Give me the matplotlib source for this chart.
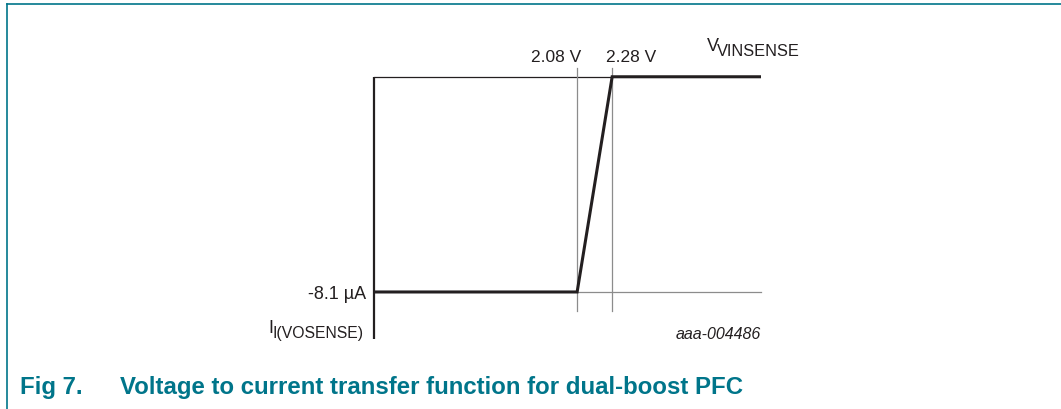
import matplotlib.pyplot as plt
from matplotlib.lines import Line2D

plt.rcParams['font.family'] = ['Liberation Sans', 'DejaVu Sans']

# Transfer function (schematic): input voltage (V) -> output current (uA)
v_thresholds = [2.08, 2.28]
threshold_labels = ["2.08 V", "2.28 V"]
i_low = -8.1
i_high = 0.0
v_range = [0.92, 3.13]  # sketch extent of the V axis
i_range = [-9.87, 0.33]  # sketch extent of the I axis
guide_bottom = -8.8

v_curve = [v_range[0], v_thresholds[0], v_thresholds[1], v_range[1]]
i_curve = [i_low, i_low, i_high, i_high]

low_label = "-8.1 µA"
fig_id = "aaa-004486"
caption_num = "Fig 7."
caption = "Voltage to current transfer function for dual-boost PFC"

W, H = 1061, 410
dark = "#231f20"
gray = "#8c8c8c"
teal = "#00758a"

fig = plt.figure(figsize=(W / 100, H / 100), dpi=100)
fx = lambda px: px / W
fy = lambda py: 1 - py / H

# teal frame (top and left edges only)
fig.add_artist(Line2D([fx(7.3), 1], [fy(4.5), fy(4.5)], color=teal, lw=1.2))
fig.add_artist(Line2D([fx(7.3), fx(7.3)], [fy(4.5), 0], color=teal, lw=1.2))

ax = fig.add_axes([fx(374), fy(340), fx(761) - fx(374), fy(69) - fy(340)])
ax.set_xlim(v_range)
ax.set_ylim(i_range)
ax.axis("off")

# axes of the sketch
ax.plot([v_range[0], v_range[0]], [i_range[0], i_high], color=dark, lw=1.6,
        solid_capstyle="butt", clip_on=False)
ax.plot([v_range[0], v_thresholds[1]], [i_high, i_high], color=dark, lw=0.9,
        clip_on=False)

# guide lines
for v in v_thresholds:
    ax.plot([v, v], [guide_bottom, i_range[1]], color=gray, lw=0.9, clip_on=False)
ax.plot([v_thresholds[0], v_range[1]], [i_low, i_low], color=gray, lw=0.9,
        clip_on=False)

# transfer curve
ax.plot(v_curve, i_curve, color=dark, lw=2.2, solid_joinstyle="miter",
        solid_capstyle="butt", clip_on=False)

# threshold labels
offsets = [-21, 19]
for v, lab, dx in zip(v_thresholds, threshold_labels, offsets):
    ax.annotate(lab, xy=(v, i_range[1]), xytext=(dx, 4), textcoords="offset pixels",
                ha="center", va="bottom", fontsize=12.5, color=dark)

ax.annotate(low_label, xy=(v_range[0], i_low), xytext=(-8, 0),
            textcoords="offset pixels", ha="right", va="center_baseline",
            fontsize=13, color=dark)

# axis names
fig.text(fx(707), fy(51), "V", fontsize=13, color=dark, ha="left", va="baseline")
fig.text(fx(717), fy(56), "VINSENSE", fontsize=11.8, color=dark, ha="left",
         va="baseline")
fig.text(fx(268), fy(333), "I", fontsize=13, color=dark, ha="left", va="baseline")
fig.text(fx(273), fy(338), "I(VOSENSE)", fontsize=11.3, color=dark, ha="left",
         va="baseline")

fig.text(fx(761), fy(339), fig_id, fontsize=11.5, style="italic", color=dark,
         ha="right", va="baseline")

fig.text(fx(20), fy(394), caption_num, fontsize=17.3, weight="bold", color=teal,
         ha="left", va="baseline")
fig.text(fx(120), fy(394), caption, fontsize=17.3, weight="bold", color=teal,
         ha="left", va="baseline")

fig.savefig("out.png", dpi=100)
